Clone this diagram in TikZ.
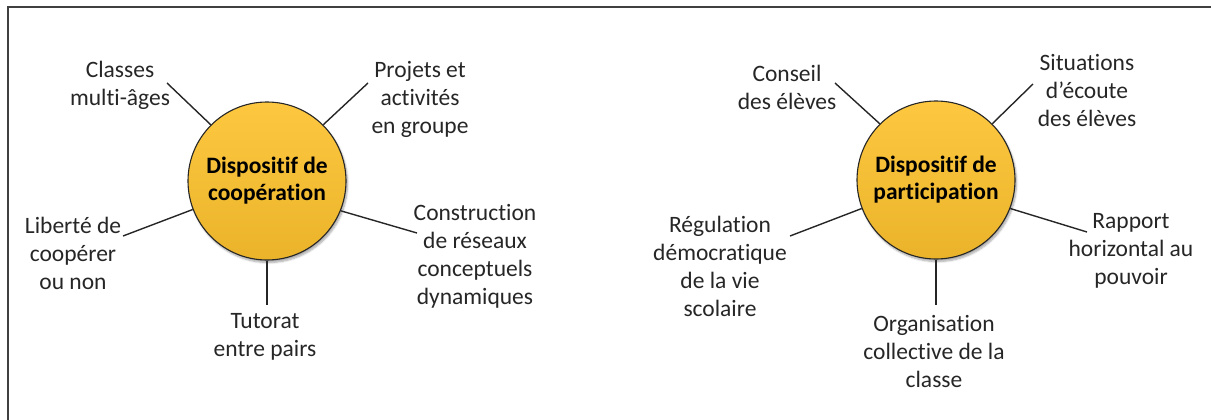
\documentclass[tikz,border=0pt]{standalone}
\usepackage{fontspec}
\setmainfont{Carlito}[Ligatures=NoCommon]
\usetikzlibrary{positioning, shadows.blur}
\definecolor{dispotop}{RGB}{253,200,64}
\definecolor{dispobot}{RGB}{234,179,42}
\definecolor{inkgray}{RGB}{38,38,38}

\begin{document}
\begin{tikzpicture}[x=1pt,y=-1pt,
  dispo/.style={circle, draw=black!85, line width=1.1pt, minimum size=158pt, inner sep=0pt,
    top color=dispotop, bottom color=dispobot,
    blur shadow={shadow xshift=1.5pt, shadow yshift=-2.5pt, shadow blur steps=6, shadow opacity=35},
    align=center, font=\bfseries\fontsize{23.5}{27}\selectfont},
  lab/.style={align=center, inner sep=0pt, text=inkgray, font=\fontsize{23.5}{28}\selectfont},
  link/.style={draw=inkgray, line width=1.4pt}]
\useasboundingbox (0,0) rectangle (1211,420);
%frame
\draw[draw=black!75, line width=1.6pt] (8,420) -- (8,7) -- (1211,7);
%left circle
\node[dispo] (coop) at (267,181) {Dispositif de\\coopération};
\node[lab] (classes) at (120,85) {Classes\\multi-âges};
\node[lab] (projets) at (420,99) {Projets et\\activités\\en groupe};
\node[lab] (liberte) at (73,253) {Liberté de\\coopérer\\ou non};
\node[lab] (construction) at (475,256) {Construction\\de réseaux\\conceptuels\\dynamiques};
\node[lab] (tutorat) at (265,337) {Tutorat\\entre pairs};
\coordinate (classesend) at (167,83);
\coordinate (projetsend) at (368,83);
\coordinate (liberteend) at (123,236);
\coordinate (constructionend) at (417,233);
\coordinate (tutoratend) at (267,305);
\draw[link] (coop.135) -- (classesend);
\draw[link] (coop.45) -- (projetsend);
\draw[link] (coop.201) -- (liberteend);
\draw[link] (coop.338) -- (constructionend);
\draw[link] (coop.270) -- (tutoratend);
%right circle
\node[dispo] (part) at (936,180) {Dispositif de\\participation};
\node[lab] (conseil) at (787,87) {Conseil\\des élèves};
\node[lab] (situations) at (1087,91) {Situations\\d’écoute\\des élèves};
\node[lab] (regulation) at (720,266) {Régulation\\démocratique\\de la vie\\scolaire};
\node[lab] (rapport) at (1131,251) {Rapport\\horizontal au\\pouvoir};
\node[lab] (organisation) at (934,351) {Organisation\\collective de la\\classe};
\coordinate (conseilend) at (835,83);
\coordinate (situationsend) at (1033,84);
\coordinate (regulationend) at (790,236);
\coordinate (rapportend) at (1087,232);
\coordinate (organisationend) at (936,305);
\draw[link] (part.135) -- (conseilend);
\draw[link] (part.45) -- (situationsend);
\draw[link] (part.201) -- (regulationend);
\draw[link] (part.339) -- (rapportend);
\draw[link] (part.270) -- (organisationend);
\end{tikzpicture}
\end{document}
